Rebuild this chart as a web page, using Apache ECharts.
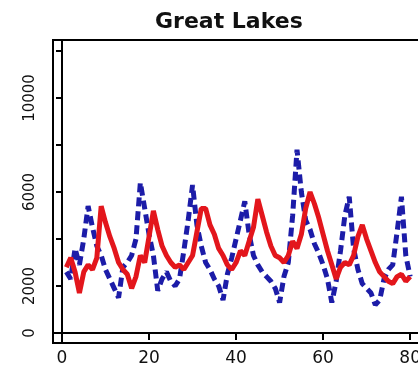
<!DOCTYPE html>
<html>
<head>
<meta charset="utf-8">
<script src="https://cdn.jsdelivr.net/npm/echarts@6/dist/echarts.min.js"></script>
<style>
html,body{margin:0;padding:0;background:#fff;}
#c{width:418px;height:367px;}
</style>
</head>
<body>
<div id="c"></div>
<script>
const titleText = 'Great Lakes';
const months = [1,2,3,4,5,6,7,8,9,10,11,12,13,14,15,16,17,18,19,20,
  21,22,23,24,25,26,27,28,29,30,31,32,33,34,35,36,37,38,39,40,
  41,42,43,44,45,46,47,48,49,50,51,52,53,54,55,56,57,58,59,60,
  61,62,63,64,65,66,67,68,69,70,71,72,73,74,75,76,77,78,79,80];
const blueSeries = [2600,2300,3600,2900,4000,5400,4500,3700,3300,2700,
  2300,1900,1500,2800,3000,3300,4000,6400,5300,4200,
  3300,1800,2300,2600,2200,2000,2300,3500,4800,6300,
  4600,3700,3000,2700,2300,2000,1400,2500,3200,4000,
  4800,5600,4200,3300,2900,2600,2400,2200,1900,1300,
  2400,3000,5000,7800,6000,4800,4400,3800,3400,2900,
  2300,1300,2200,3500,5000,5800,3600,2700,2100,1900,
  1700,1200,1400,2300,2700,2900,4300,5800,3300,2400];
const redSeries = [2800,3200,2600,1700,2600,2900,2700,3200,5400,4700,
  4100,3600,3000,2700,2500,1900,2400,3300,3000,4100,
  5200,4400,3700,3300,3000,2800,2900,2700,3000,3300,
  4300,5300,5300,4600,4200,3600,3300,2900,2700,3000,
  3500,3300,3900,4500,5700,5000,4300,3700,3300,3200,
  3000,3300,3900,3600,4200,5300,6000,5500,4900,4200,
  3500,2900,2300,2800,3000,2900,3300,4100,4600,4000,
  3500,3000,2600,2400,2200,2100,2400,2500,2200,2400];
const xTicks = [0,20,40,60,80];
const yTicks = [0,2000,4000,6000,8000,10000,12000];
const yLabels = [0,2000,6000,10000];

const chart = echarts.init(document.getElementById('c'), null, {renderer:'canvas'});
const pairs = (ys) => months.map((m,i) => [m, ys[i]]);
chart.setOption({
  animation:false,
  backgroundColor:'#fff',
  title:{text:titleText,left:150,top:6,
    textStyle:{fontFamily:'DejaVu Sans',fontWeight:'bold',fontSize:22,color:'#111'}},
  grid:{left:53,top:40,right:-20,bottom:24,show:true,borderColor:'#000',borderWidth:2,
    backgroundColor:'#fff',containLabel:false,outerBoundsMode:'none'},
  xAxis:{type:'value',min:-2.07,max:86.4,
    axisLine:{show:true,lineStyle:{color:'#000',width:2}},
    axisTick:{show:true,customValues:xTicks,length:7,lineStyle:{color:'#000',width:2}},
    axisLabel:{customValues:xTicks,margin:7,fontFamily:'DejaVu Sans',fontSize:17,color:'#111',
      formatter:(v)=>String(v)},
    splitLine:{show:false}},
  yAxis:{type:'value',min:-425,max:12468,
    axisLine:{show:true,lineStyle:{color:'#000',width:2}},
    axisTick:{show:true,customValues:yTicks,length:6,lineStyle:{color:'#000',width:2}},
    axisLabel:{customValues:yLabels,rotate:90,margin:15,fontFamily:'DejaVu Sans',fontSize:15,color:'#111',
      formatter:(v)=>String(v)},
    splitLine:{show:false}},
  series:[
    {type:'line',data:pairs(blueSeries),symbol:'none',z:2,
      lineStyle:{color:'#1c1ca8',width:5,type:[9,5]}},
    {type:'line',data:pairs(redSeries),symbol:'none',z:3,
      lineStyle:{color:'#e3161c',width:5}}
  ]
});
</script>
</body>
</html>
